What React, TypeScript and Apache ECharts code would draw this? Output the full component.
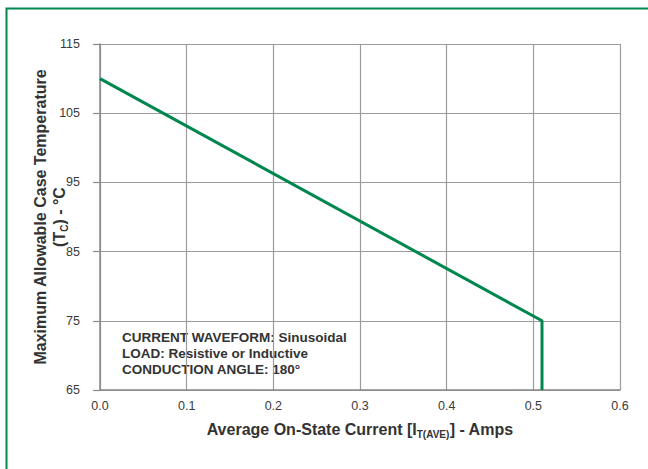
import React, { useEffect, useRef } from "react";
import * as echarts from "echarts";

const currentAmps = [0.0, 0.51, 0.51];
const caseTempC = [110, 75, 65];
const xTicks = [0.0, 0.1, 0.2, 0.3, 0.4, 0.5, 0.6];
const yTicks = [65, 75, 85, 95, 105, 115];
const noteLines = [
  "CURRENT WAVEFORM: Sinusoidal",
  "LOAD: Resistive or Inductive",
  "CONDUCTION ANGLE: 180°",
];

const GREEN = "#00874f";
const FONT = "Liberation Sans, Arial, sans-serif";

export default function App() {
  const ref = useRef<HTMLDivElement>(null);
  useEffect(() => {
    if (!ref.current) return;
    const chart = echarts.init(ref.current, null, { renderer: "svg" });
    chart.setOption({
      animation: false,
      backgroundColor: "#fff",
      textStyle: { fontFamily: FONT },
      grid: { left: 100, right: 28, top: 44, bottom: 79 },
      xAxis: {
        type: "value",
        min: xTicks[0],
        max: xTicks[xTicks.length - 1],
        interval: 0.1,
        axisLine: { show: true, lineStyle: { color: "#888", width: 1.5 } },
        axisTick: { show: false },
        splitLine: { show: true, lineStyle: { color: "#9c9c9c", width: 1.2 } },
        axisLabel: {
          color: "#3a3a3a",
          fontSize: 12.5,
          margin: 9,
          fontFamily: FONT,
          formatter: (v: number) => v.toFixed(1),
        },
        name: "{b|Average On-State Current [I}{s|T(AVE)}{b|] - Amps}",
        nameLocation: "middle",
        nameGap: 30,
        nameMoveOverlap: false,
        nameTextStyle: {
          rich: {
            b: { fontSize: 16, fontWeight: "bold", color: "#333", fontFamily: FONT },
            s: { fontSize: 10, fontWeight: "bold", color: "#333", fontFamily: FONT, padding: [9, 0, 0, 0] },
          },
        },
      },
      yAxis: {
        type: "value",
        min: yTicks[0],
        max: yTicks[yTicks.length - 1],
        interval: 10,
        axisLine: { show: true, lineStyle: { color: "#888", width: 1.5 } },
        axisTick: { show: true, length: 7, lineStyle: { color: "#888", width: 1.2 } },
        splitLine: { show: true, lineStyle: { color: "#9c9c9c", width: 1.2 } },
        axisLabel: { color: "#3a3a3a", fontSize: 12.5, margin: 20, fontFamily: FONT },
        name: "{b|Maximum Allowable Case Temperature}\n{b|(T}{s|C}{b|) - °C}",
        nameLocation: "middle",
        nameRotate: 90,
        nameGap: 31,
        nameMoveOverlap: false,
        nameTextStyle: {
          align: "center",
          lineHeight: 19,
          rich: {
            b: { fontSize: 16, fontWeight: "bold", color: "#333", fontFamily: FONT, lineHeight: 19 },
            s: { fontSize: 10, fontWeight: "bold", color: "#333", fontFamily: FONT, lineHeight: 19, padding: [9, 0, 0, 0] },
          },
        },
      },
      series: [
        {
          type: "line",
          data: currentAmps.map((x, i) => [x, caseTempC[i]]),
          symbol: "none",
          lineStyle: { color: GREEN, width: 3 },
          silent: true,
        },
      ],
      graphic: [
        {
          type: "rect",
          shape: { x: 6.5, y: 8.5, width: 700, height: 520 },
          style: { fill: "none", stroke: GREEN, lineWidth: 2 },
          silent: true,
        },
        ...noteLines.map((t, i) => ({
          type: "text",
          x: 122,
          y: 330 + i * 16,
          style: {
            text: t,
            fontSize: 13.5,
            fontWeight: "bold",
            fill: "#333",
            fontFamily: FONT,
          },
        })),
      ],
    });
    return () => chart.dispose();
  }, []);
  return (
    <div
      ref={ref}
      style={{ position: "fixed", left: 0, top: 0, width: 648, height: 469 }}
    />
  );
}
